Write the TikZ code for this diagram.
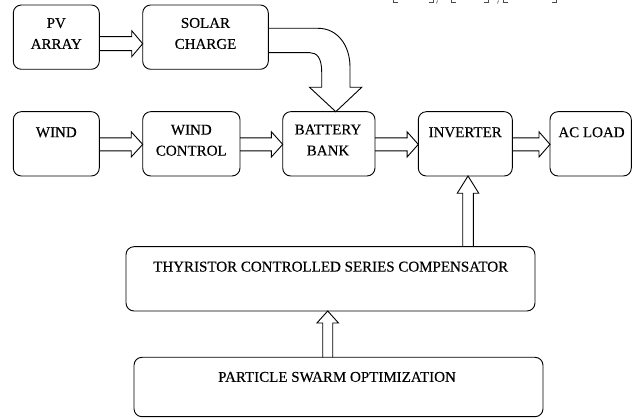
\documentclass[tikz,border=0pt]{standalone}
\usepackage{fontspec}
\setmainfont[FakeBold=0.3]{Liberation Serif}
\usetikzlibrary{calc,fit}
\newcommand\harr[6]{%
  \draw[arr] (#1.east |- 0,{#3-#4}) -- ($(#2.west |- 0,{#3-#4})+(-#6,0)$)
    -- ($(#2.west |- 0,{#3-#5})+(-#6,0)$) -- (#2.west |- 0,#3)
    -- ($(#2.west |- 0,{#3+#5})+(-#6,0)$) -- ($(#2.west |- 0,{#3+#4})+(-#6,0)$)
    -- (#1.east |- 0,{#3+#4});}
\newcommand\varr[6]{%
  \draw[arr] (#1.north -| {#3-#4},0) -- ($(#2.south -| {#3-#4},0)+(0,#6)$)
    -- ($(#2.south -| {#3-#5},0)+(0,#6)$) -- (#2.south -| #3,0)
    -- ($(#2.south -| {#3+#5},0)+(0,#6)$) -- ($(#2.south -| {#3+#4},0)+(0,#6)$)
    -- (#1.north -| {#3+#4},0);}
\begin{document}
\begin{tikzpicture}[x=1pt,y=-1pt,
  box/.style={draw, rounded corners=8pt, inner sep=0pt, outer sep=0pt, line width=0.9pt},
  lbl/.style={font=\fontsize{15}{21}\selectfont, align=center, inner sep=0pt},
  arr/.style={line width=0.9pt, line join=miter},
  frag/.style={line width=0.6pt, draw=black!70}]
\useasboundingbox (0,0) rectangle (632,419);
% boxes
\node[box, fit={(13.3,5) (99.3,69.3)}] (pv) {};
\node[box, fit={(142.7,5) (268.3,69.3)}] (solar) {};
\node[box, fit={(13.3,111.7) (99.3,176)}] (wind) {};
\node[box, fit={(142.7,111.7) (240,176)}] (wc) {};
\node[box, fit={(282.7,111.7) (375,176)}] (bb) {};
\node[box, fit={(418.3,111.7) (512.3,176)}] (inv) {};
\node[box, fit={(550,111.7) (631.3,176)}] (ac) {};
\node[box, fit={(126,246.7) (535,311)}] (tcsc) {};
\node[box, fit={(134,357.3) (543,416.7)}] (pso) {};
% labels
\node[lbl] (pvt) at (56.3,33.5) {PV\\ARRAY};
\node[lbl] (solart) at (205.5,33.5) {SOLAR\\CHARGE};
\node[lbl] (windt) at (56.3,132.3) {WIND};
\node[lbl] (wct) at (191.3,140.3) {WIND\\CONTROL};
\node[lbl] (bbt) at (328,140) {BATTERY\\BANK};
\node[lbl] (invt) at (465.2,132.3) {INVERTER};
\node[lbl] (act) at (591.5,132.3) {AC LOAD};
\node[lbl] (tcsct) at (330.7,266.7) {THYRISTOR CONTROLLED SERIES COMPENSATOR};
\node[lbl] (psot) at (337,377) {PARTICLE SWARM OPTIMIZATION};
% arrows
\harr{pv}{solar}{43.7}{7}{13}{11}
\harr{wind}{wc}{144.4}{6.5}{12.6}{11.5}
\harr{wc}{bb}{144.4}{6.5}{12.6}{11.3}
\harr{bb}{inv}{144.4}{6.5}{12.6}{11.2}
\harr{inv}{ac}{144.4}{6.5}{12.6}{11}
\varr{tcsc}{inv}{468}{5.3}{10.8}{17.3}
\varr{pso}{tcsc}{327.7}{5}{10.8}{12}
% curved arrow solar -> battery
\draw[arr] (solar.east |- 0,28.3) -- (318,28.3)
  .. controls (338,28.3) and (350,46) .. (350,67) -- (350,87.3)
  -- (361.7,87.3) -- (bb.north -| 335.8,0) -- (309.5,87.3) -- (321.7,87.3)
  -- (321.7,72) .. controls (321.7,58) and (317,52.7) .. (310,52.7)
  -- (solar.east |- 0,52.7);
% cut-off citation fragments at top edge
\draw[frag] (393.5,0) -- (393.5,2.5) -- (398,2.5);
\draw[frag] (428.5,2.5) -- (433,2.5) -- (433,0);
\draw[frag] (437.5,0.5) -- (436.5,3.5);
\draw[frag] (451.5,0) -- (451.5,2.5) -- (456,2.5);
\draw[frag] (483.5,2.5) -- (488,2.5) -- (488,0);
\draw[frag] (498.5,0.5) -- (497.5,3.5);
\draw[frag] (503.5,0) -- (503.5,2.5) -- (508,2.5);
\draw[frag] (551.5,2.5) -- (556,2.5) -- (556,0);
\end{tikzpicture}
\end{document}
